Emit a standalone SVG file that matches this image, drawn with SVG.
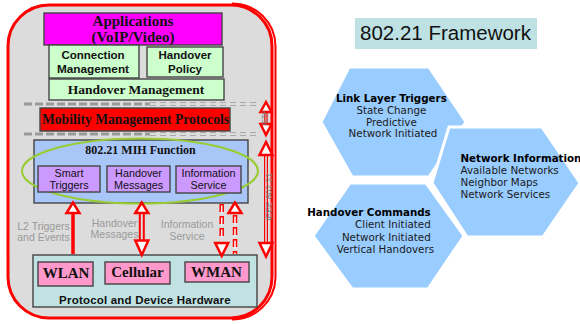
<svg xmlns="http://www.w3.org/2000/svg" width="580" height="324" viewBox="0 0 580 324">
  <style>
    .box { stroke: #444; stroke-width: 1.4; }
    .serif { font-family: "Liberation Serif", "Times New Roman", serif; font-weight: bold; fill: #111; text-anchor: middle; }
    .sansb { font-family: "Liberation Sans", Arial, sans-serif; font-weight: bold; fill: #111; text-anchor: middle; }
    .sans { font-family: "Liberation Sans", Arial, sans-serif; fill: #111; text-anchor: middle; }
    .note { font-family: "Liberation Sans", Arial, sans-serif; fill: #9a9a9a; text-anchor: middle; font-size: 10.5px; }
    .side { font-family: "Liberation Sans", Arial, sans-serif; fill: #7a7a7a; text-anchor: middle; }
    .red { fill: none; stroke: #ff0000; }
    .head { fill: #fff; stroke: #ff0000; stroke-width: 2.5; stroke-linejoin: miter; }
    .hex { fill: #99ccff; stroke: #fff; stroke-width: 3; }
    .hx { font-family: "DejaVu Sans", Verdana, sans-serif; font-size: 10.3px; fill: #1a1a1a; }
    .hxb { font-weight: bold; fill: #000; }
  </style>

  <!-- stack panel background with red rounded border -->
  <g id="stack-frame">
    <rect x="8" y="5" width="264" height="313" rx="41" ry="41" fill="#dcdcdc" stroke="#ff0000" stroke-width="3"/>
    <path d="M232,3.5 A43,43 0 0 1 275.5,46 L275.5,278 A43,43 0 0 1 232,319.5" fill="none" stroke="#ff0000" stroke-width="2"/>
  </g>

  <!-- layer separators -->
  <g id="separators" fill="none">
    <line x1="24" y1="104" x2="150" y2="104" stroke="#999" stroke-width="3" stroke-dasharray="8 3"/>
    <line x1="150" y1="104" x2="258" y2="104" stroke="#999" stroke-width="3.5" stroke-dasharray="6 4"/>
    <line x1="150" y1="104" x2="258" y2="104" stroke="#efefef" stroke-width="1.3" stroke-dasharray="6 4"/>
    <line x1="24" y1="134" x2="150" y2="134" stroke="#999" stroke-width="3" stroke-dasharray="8 3"/>
    <line x1="150" y1="134" x2="258" y2="134" stroke="#999" stroke-width="3.5" stroke-dasharray="6 4"/>
    <line x1="150" y1="134" x2="258" y2="134" stroke="#efefef" stroke-width="1.3" stroke-dasharray="6 4"/>
  </g>

  <g id="applications">
    <rect class="box" x="44" y="13" width="178" height="32" fill="#ff00ff"/>
    <text class="serif" x="133" y="26" font-size="15">Applications</text>
    <text class="serif" x="133" y="42" font-size="15">(VoIP/Video)</text>
  </g>

  <g id="connection-management">
    <rect class="box" x="49" y="45" width="90" height="33" fill="#ccffcc"/>
    <text class="sansb" x="93" y="58.5" font-size="11.5">Connection</text>
    <text class="sansb" x="93" y="73" font-size="11.8">Management</text>
  </g>

  <g id="handover-policy">
    <rect class="box" x="147" y="47" width="76" height="30" fill="#ccffcc"/>
    <text class="sansb" x="185" y="58.5" font-size="11.5">Handover</text>
    <text class="sansb" x="185" y="73" font-size="11.5">Policy</text>
  </g>

  <g id="handover-management">
    <rect class="box" x="49" y="79" width="175" height="21" fill="#ccffcc"/>
    <text class="serif" x="136" y="94" font-size="13.5">Handover Management</text>
  </g>

  <g id="mobility-protocols">
    <rect class="box" x="40" y="108" width="190" height="23" fill="#ff0000"/>
    <text class="serif" x="135.5" y="123.5" font-size="13.6">Mobility Management Protocols</text>
  </g>

  <g id="mih-function">
    <rect class="box" x="34" y="140" width="214" height="63" fill="#a9c6f8"/>
    <text class="serif" x="140.5" y="153.5" font-size="12">802.21 MIH Function</text>
    <ellipse cx="140" cy="171" rx="118" ry="32.5" fill="none" stroke="#99cc33" stroke-width="2"/>
  </g>

  <g id="smart-triggers">
    <rect class="box" x="38" y="166" width="62" height="26" fill="#cc99ff"/>
    <text class="sans" x="69" y="176.5" font-size="10.8">Smart</text>
    <text class="sans" x="69" y="188.5" font-size="10.8">Triggers</text>
  </g>

  <g id="handover-messages">
    <rect class="box" x="107" y="166" width="63" height="26" fill="#cc99ff"/>
    <text class="sans" x="138.5" y="176.5" font-size="10.8">Handover</text>
    <text class="sans" x="138.5" y="188.5" font-size="10.8">Messages</text>
  </g>

  <g id="information-service">
    <rect class="box" x="176" y="166" width="65" height="27" fill="#cc99ff"/>
    <text class="sans" x="208.5" y="176.5" font-size="10.8">Information</text>
    <text class="sans" x="208.5" y="189" font-size="10.8">Service</text>
  </g>

  <g id="hardware">
    <rect class="box" x="33" y="255" width="224" height="52" fill="#c0e2e2"/>
    <text class="sansb" x="145" y="303.5" font-size="11.5" letter-spacing="0.2">Protocol and Device Hardware</text>
  </g>

  <g id="wlan">
    <rect class="box" x="38" y="262" width="55" height="24" fill="#ff99cc"/>
    <text class="serif" x="66" y="278" font-size="15">WLAN</text>
  </g>

  <g id="cellular">
    <rect class="box" x="105" y="262" width="65" height="22" fill="#ff99cc"/>
    <text class="serif" x="137.5" y="277" font-size="15">Cellular</text>
  </g>

  <g id="wman">
    <rect class="box" x="185" y="262" width="64" height="20" fill="#ff99cc"/>
    <text class="serif" x="216.5" y="277" font-size="15">WMAN</text>
  </g>

  <!-- interface labels between hardware and MIH function -->
  <g id="interface-labels">
    <text class="note" x="43.5" y="230">L2 Triggers</text>
    <text class="note" x="43.5" y="240.5">and Events</text>
    <text class="note" x="114.5" y="227">Handover</text>
    <text class="note" x="114.5" y="238">Messages</text>
    <text class="note" x="187" y="228">Information</text>
    <text class="note" x="187" y="239.5">Service</text>
  </g>

  <g id="connectors">
    <!-- L2 triggers: WLAN up to MIH -->
    <line x1="73" y1="254" x2="73" y2="212" stroke="#ff0000" stroke-width="3.5"/>
    <polygon class="head" points="73,202.5 66.5,213 79.5,213"/>
    <!-- handover messages: two-way -->
    <path class="red" d="M139.8,213 V240 M143.8,213 V240" stroke-width="2"/>
    <polygon class="head" points="141.8,202.5 135.3,213 148.3,213"/>
    <polygon class="head" points="141.8,255 135.3,240.5 148.3,240.5"/>
    <!-- information service request (down, dashed) -->
    <path d="M221.7,204 V240" fill="none" stroke="#ff0000" stroke-width="4.5" stroke-dasharray="8 4"/>
    <path d="M221.7,204 V240" fill="none" stroke="#fff" stroke-width="1.5" stroke-dasharray="8 4" stroke-dashoffset="-1.5"/>
    <polygon class="head" points="221.7,256 215.2,243 228.2,243"/>
    <!-- information service response (up, dashed) -->
    <path d="M235,215 V254" fill="none" stroke="#ff0000" stroke-width="4.5" stroke-dasharray="8 4"/>
    <path d="M235,215 V254" fill="none" stroke="#fff" stroke-width="1.5" stroke-dasharray="8 4" stroke-dashoffset="-1.5"/>
    <polygon class="head" points="235,202.5 228.5,213 241.5,213"/>
    <!-- IETF scope -->
    <path class="red" d="M264.8,112 V124 M267,112 V124" stroke-width="1.2"/>
    <polygon class="head" points="266,102 260.5,112 271.5,112" stroke-width="1.5"/>
    <polygon class="head" points="266,135 260.5,124 271.5,124" stroke-width="1.5"/>
    <!-- IEEE 802.21 scope -->
    <path class="red" d="M264.6,155 V243 M267.4,155 V243" stroke-width="1.2"/>
    <polygon class="head" points="266,142 259.5,155 272.5,155" stroke-width="1.5"/>
    <polygon class="head" points="266,256.5 259.5,243 272.5,243" stroke-width="1.5"/>
    <text class="side" font-size="7" transform="translate(264.5,118) rotate(-90)" dy="2.5">IETF</text>
    <text class="side" font-size="8.5" transform="translate(268.5,197) rotate(-90)" dy="3">IEEE 802.21</text>
  </g>

  <!-- framework overview -->
  <g id="framework-title">
    <rect x="355" y="18" width="182" height="31" fill="#bee2e4"/>
    <text x="445.5" y="40" font-family="'Liberation Sans', Arial, sans-serif" font-size="20.5" text-anchor="middle" fill="#111">802.21 Framework</text>
  </g>

  <g id="link-layer-triggers">
    <polygon class="hex" points="321,122 349,67 429,67 466,122 429,177 352,177"/>
    <text class="hx" text-anchor="middle">
      <tspan class="hxb" x="393" y="102">Link Layer Triggers</tspan>
      <tspan x="393" y="114">State Change</tspan>
      <tspan x="393" y="125.5">Predictive</tspan>
      <tspan x="393" y="137">Network Initiated</tspan>
    </text>
  </g>

  <g id="network-information">
    <polygon class="hex" points="432,183 449,127 542,127 580,183 543,237 467,237"/>
    <text class="hx">
      <tspan class="hxb" x="460.5" y="162">Network Information</tspan>
      <tspan x="460.5" y="174">Available Networks</tspan>
      <tspan x="460.5" y="186">Neighbor Maps</tspan>
      <tspan x="460.5" y="198">Network Services</tspan>
    </text>
  </g>

  <g id="handover-commands">
    <polygon class="hex" points="313,236 350,183 426,183 464,236 428,289 352,289"/>
    <text class="hx" text-anchor="end">
      <tspan class="hxb" x="434" y="216">Handover Commands</tspan>
      <tspan x="434" y="228">Client Initiated</tspan>
      <tspan x="434" y="240.5">Network Initiated</tspan>
      <tspan x="434" y="252.5">Vertical Handovers</tspan>
    </text>
  </g>
</svg>
